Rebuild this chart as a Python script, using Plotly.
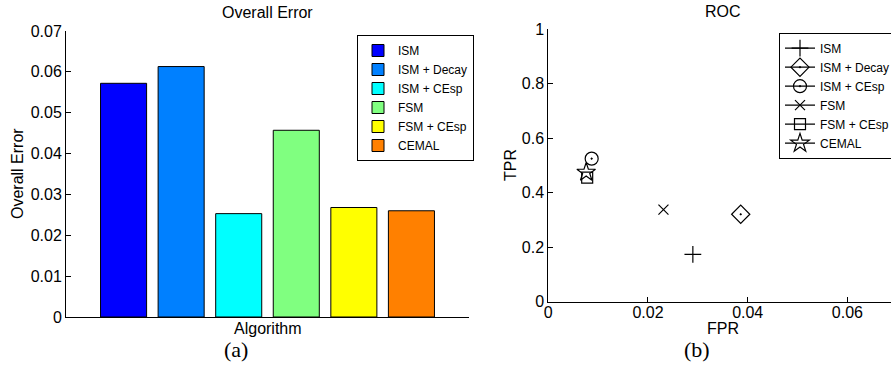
import plotly.graph_objects as go

# ---- data ----
algorithms = ["ISM", "ISM + Decay", "ISM + CEsp", "FSM", "FSM + CEsp", "CEMAL"]
overall_error = [0.0572, 0.0613, 0.0253, 0.0457, 0.0268, 0.0260]
bar_colors = ["#0000FF", "#0080FF", "#00FFFF", "#80FF80", "#FFFF00", "#FF8000"]
fpr = [0.0290, 0.0386, 0.0087, 0.0231, 0.0078, 0.0076]
tpr = [0.174, 0.321, 0.525, 0.338, 0.455, 0.475]
roc_symbols = ["cross-thin-open", "diamond-open-dot", "circle-open-dot", "x-thin-open", "square-open", "star-open"]
roc_sizes = [12, 14, 13, 10, 11, 14]
err_ticks = [0, 0.01, 0.02, 0.03, 0.04, 0.05, 0.06, 0.07]
tpr_ticks = [0, 0.2, 0.4, 0.6, 0.8, 1]
fpr_ticks = [0, 0.02, 0.04, 0.06]

W, H = 891, 366
FONT = "Liberation Sans, Arial, sans-serif"
SERIF = "Liberation Serif, Times New Roman, serif"

def px(x):
    return x / W

def py(y):
    return (H - y) / H

fig = go.Figure()

for i, (name, v, c) in enumerate(zip(algorithms, overall_error, bar_colors)):
    fig.add_trace(go.Bar(
        x=[i + 1], y=[v], name=name, width=0.8,
        marker=dict(color=c, line=dict(color="black", width=1)),
        xaxis="x", yaxis="y", legend="legend", showlegend=True,
    ))

for name, fx, ty, sym, sz in zip(algorithms, fpr, tpr, roc_symbols, roc_sizes):
    fig.add_trace(go.Scatter(
        x=[fx], y=[ty], name=name, mode="lines+markers",
        marker=dict(symbol=sym, size=sz, color="black", line=dict(color="black", width=1.2)),
        line=dict(color="black", width=1.2),
        xaxis="x2", yaxis="y2", legend="legend2",
    ))

axis_common = dict(
    showline=True, linecolor="black", linewidth=1, mirror=False,
    showgrid=False, zeroline=False, ticklen=5, tickcolor="black",
    tickfont=dict(family=FONT, size=16, color="black"),
)

fig.update_layout(
    width=W, height=H,
    margin=dict(l=0, r=0, t=0, b=0, autoexpand=False),
    paper_bgcolor="white", plot_bgcolor="white",
    font=dict(family=FONT, color="black"),
    bargap=0.2,
    xaxis=dict(domain=[px(66), px(469)], range=[0, 7], showticklabels=False,
               ticks="", **axis_common),
    yaxis=dict(domain=[py(317), py(31)], range=[0, 0.07], tickvals=err_ticks,
               ticktext=[("%g" % t) for t in err_ticks], anchor="x", ticks="inside",
               **axis_common),
    xaxis2=dict(domain=[px(548.3), 1.0], range=[0, 0.06875], tickvals=fpr_ticks,
                ticktext=[("%g" % t) for t in fpr_ticks], anchor="y2", ticks="inside",
                ticklabelstandoff=-4, **axis_common),
    yaxis2=dict(domain=[py(301.8), py(29.1)], range=[0, 1], tickvals=tpr_ticks,
                ticktext=[("%g" % t) for t in tpr_ticks], anchor="x2", ticks="inside",
                **axis_common),
    legend=dict(x=px(357), y=py(35), xanchor="left", yanchor="top",
                bgcolor="white", bordercolor="black", borderwidth=1,
                font=dict(family=FONT, size=12, color="black"),
                itemwidth=30, tracegroupgap=0),
    legend2=dict(x=px(779), y=py(32.7), xanchor="left", yanchor="top",
                 bgcolor="white", bordercolor="black", borderwidth=1,
                 font=dict(family=FONT, size=12, color="black"),
                 itemwidth=30, tracegroupgap=0),
    showlegend=True,
)

ann = [
    dict(text="Overall Error", x=px(267.5), y=py(12), font=dict(size=16)),
    dict(text="Overall Error", x=px(17), y=py(174), font=dict(size=16), textangle=-90),
    dict(text="Algorithm", x=px(267.5), y=py(328), font=dict(size=16)),
    dict(text="(a)", x=px(236), y=py(349), font=dict(size=22, family=SERIF)),
    dict(text="ROC", x=px(722.7), y=py(11), font=dict(size=16)),
    dict(text="TPR", x=px(511), y=py(165), font=dict(size=16), textangle=-90),
    dict(text="FPR", x=px(722.7), y=py(328), font=dict(size=16)),
    dict(text="(b)", x=px(697), y=py(349), font=dict(size=22, family=SERIF)),
]
for a in ann:
    f = dict(family=FONT, color="black")
    f.update(a.pop("font"))
    fig.add_annotation(xref="paper", yref="paper", showarrow=False,
                       xanchor="center", yanchor="middle", font=f, **a)

fig.write_html("out.html",
               config={"displayModeBar": False},
               post_script="document.body.style.margin='0';document.body.style.overflow='hidden';")
